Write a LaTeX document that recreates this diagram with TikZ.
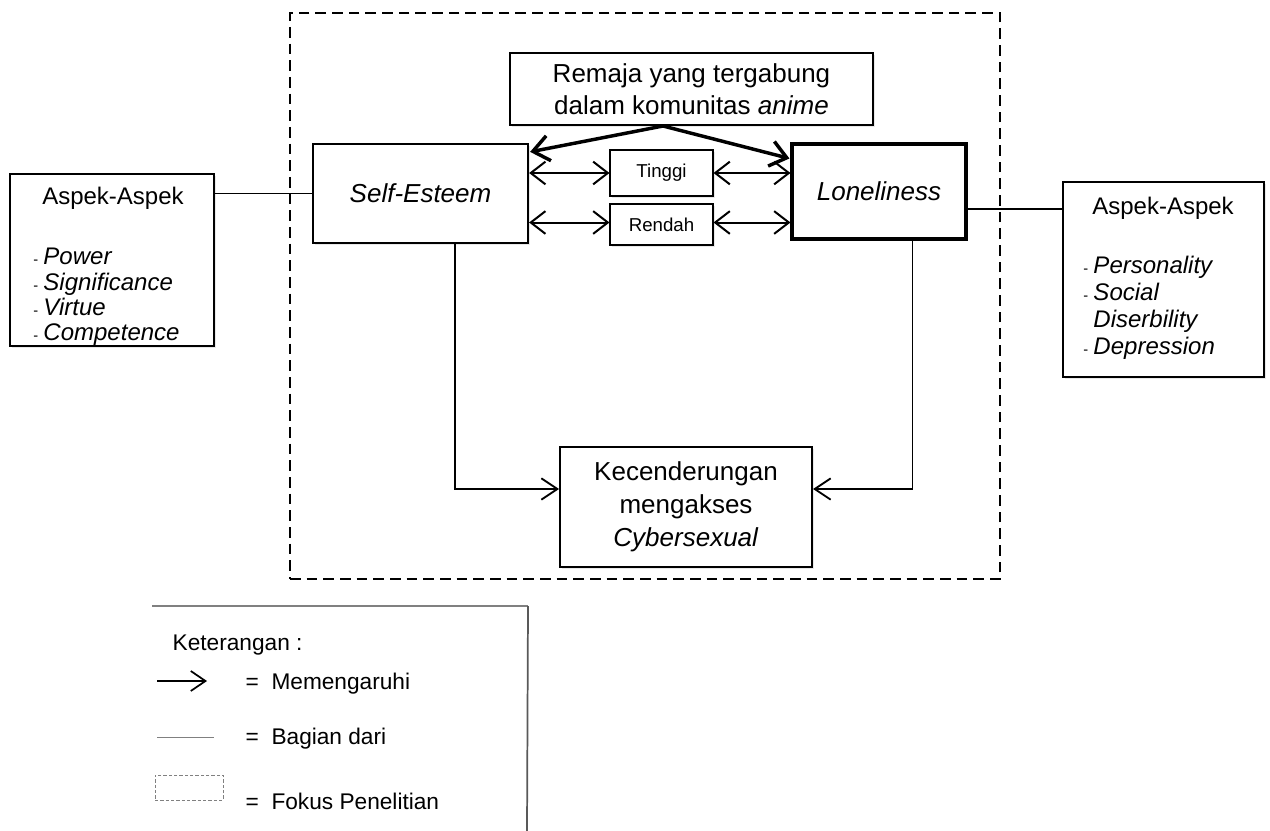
\documentclass[tikz,border=0pt]{standalone}
\usepackage{fontspec}
\setmainfont{Liberation Sans}
\usetikzlibrary{arrows.meta,calc,shadows}
\newcommand\mydash{{\fontsize{11}{12}\selectfont -}\hspace{4pt}}
\begin{document}
\begin{tikzpicture}[x=0.75pt,y=-0.75pt,
  box/.style={draw, fill=white, inner sep=0pt, align=center,
    drop shadow={opacity=0.18,shadow xshift=1.8pt,shadow yshift=-1.8pt}},
  bigfont/.style={font={\fontsize{19.5}{24}\selectfont}},
  asfont/.style={font={\fontsize{18}{20.25}\selectfont}},
  item/.style={asfont, anchor=base west, inner sep=0pt},
  thickarr/.style={line width=2.6pt,-{Straight Barb[length=12pt,width=19pt]}},
  dbl/.style={line width=1.5pt,{Straight Barb[length=11pt,width=17pt]}-{Straight Barb[length=11pt,width=17pt]}},
  arr/.style={line width=1.4pt,-{Straight Barb[length=12pt,width=16pt]}},
  part/.style={line width=1.3pt},
  legfont/.style={font={\fontsize{17}{20}\selectfont}, anchor=west},
  focus/.style={draw, line width=1.3pt, dash pattern=on 8pt off 4.5pt}]
\useasboundingbox (0,0) rectangle (1270,831);

% focus box
\node[focus, minimum width=532.5pt, minimum height=424.5pt, inner sep=0pt] (foc) at (645,296) {};

% main boxes
\node[box, line width=1.5pt, bigfont, minimum width=272.25pt, minimum height=54pt] (rem) at (691.5,89)
  {Remaja yang tergabung\\dalam komunitas \textit{anime}};
\node[box, line width=1.7pt, bigfont, minimum width=161.25pt, minimum height=74.25pt] (se) at (420.5,193.5)
  {\textit{Self-Esteem}};
\node[box, line width=2.3pt, bigfont, minimum width=130.5pt, minimum height=71.25pt] (lon) at (879,191.5)
  {\textit{Loneliness}};
\node[box, line width=0.8pt, font={\fontsize{14}{16}\selectfont}, minimum width=77.25pt, minimum height=34.5pt] (tg) at (661.5,173) {Tinggi};
\node[box, line width=0.8pt, font={\fontsize{14}{16}\selectfont}, minimum width=77.25pt, minimum height=30.75pt] (rd) at (661.5,224.5) {Rendah};
\node[box, line width=1.5pt, font={\fontsize{19.5}{24.75}\selectfont}, minimum width=189pt, minimum height=90pt] (bot) at (686,507)
  {Kecenderungan\\mengakses\\\textit{Cybersexual}};

% left aspect box
\node[box, line width=1.5pt, minimum width=153pt, minimum height=129pt] (la) at (112,260) {};
\node[asfont, anchor=center] (lat) at (113,198) {Aspek-Aspek};
\node[item] (la1) at (33,264) {\mydash\textit{Power}};
\node[item] (la2) at (33,290) {\mydash\textit{Significance}};
\node[item] (la3) at (33,315) {\mydash\textit{Virtue}};
\node[item] (la4) at (33,340) {\mydash\textit{Competence}};

% right aspect box
\node[box, line width=1.5pt, minimum width=150.75pt, minimum height=146.25pt] (ra) at (1163.5,279.5) {};
\node[asfont, anchor=center] (rat) at (1163,208) {Aspek-Aspek};
\node[item] (ra1) at (1083,273) {\mydash\textit{Personality}};
\node[item] (ra2) at (1083,300) {\mydash\textit{Social}};
\node[item] (ra3) at (1083,327) {\phantom{\mydash}\textit{Diserbility}};
\node[item] (ra4) at (1083,354) {\mydash\textit{Depression}};

% connectors
\coordinate (remo) at ($(rem.south west)+(154,0)$);
\draw[thickarr] (remo) -- ($(se.north east)+(1,9)$);
\draw[thickarr] (remo) -- ($(lon.north west)+(-1,16)$);

\draw[dbl] (tg.west -| se.east) -- (tg.west);
\draw[dbl] (tg.east) -- (tg.east -| lon.west);
\draw[dbl] ($(rd.west -| se.east)+(0,-2)$) -- ($(rd.west)+(0,-2)$);
\draw[dbl] ($(rd.east)+(0,-2)$) -- ($(rd.east -| lon.west)+(0,-2)$);

\draw[part] (se.west -| la.east) -- (se.west);
\coordinate (lonr) at ($(lon.east)+(0,17.5)$);
\draw[part] (lonr) -- (lonr -| ra.west);

\coordinate (bl) at ($(bot.west)+(0,-18)$);
\coordinate (br) at ($(bot.east)+(0,-18)$);
\draw[arr] ($(se.south west)+(143,0)$) |- (bl);
\draw[arr] ($(lon.south west)+(122,0)$) |- (br);

% legend
\coordinate (lt1) at (152,606);
\coordinate (lt2) at (528,606);
\coordinate (lr2) at (527,831);
\draw[gray, line width=1.5pt] (lt1) -- (lt2);
\draw[black!65, line width=1.3pt] (lt2) -- (lr2);
\node[legfont] (ket) at (168,645) {Keterangan :};
\coordinate (lg1) at (157,681);
\coordinate (lg2) at (207,681);
\draw[line width=1.3pt,-{Straight Barb[length=11pt,width=15pt]}] (lg1) -- (lg2);
\node[legfont] (l1) at (241,684) {=\ \ Memengaruhi};
\coordinate (lb1) at (157,737);
\coordinate (lb2) at (214,737);
\draw[gray, line width=0.7pt] (lb1) -- (lb2);
\node[legfont] (l2) at (241,739) {=\ \ Bagian dari};
\node[draw=gray, line width=0.6pt, dash pattern=on 2.5pt off 1.5pt, minimum width=51pt, minimum height=18.75pt, inner sep=0pt] (lc) at (189,787.5) {};
\node[legfont] (l3) at (241,801) {=\ \ Fokus Penelitian};
\end{tikzpicture}
\end{document}
